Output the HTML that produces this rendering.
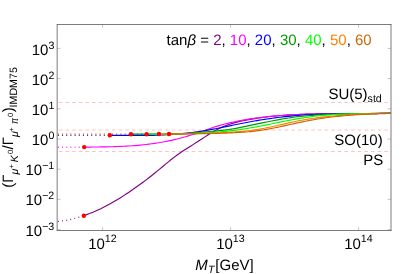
<!DOCTYPE html>
<html><head><meta charset="utf-8"><title>chart</title>
<style>html,body{margin:0;padding:0;background:#fff;}body{width:415px;height:274px;overflow:hidden;font-family:"Liberation Sans",sans-serif;}</style></head>
<body>
<svg width="415" height="274" viewBox="0 0 415 274" style="display:block;text-rendering:geometricPrecision">
<rect x="0" y="0" width="415" height="274" fill="#ffffff"/>
<defs><filter id="gs" x="0" y="0" width="415" height="274" filterUnits="userSpaceOnUse" color-interpolation-filters="sRGB"><feOffset dx="0" dy="0"/></filter></defs>
<defs><clipPath id="clip"><rect x="57.17" y="24.5" width="333.83" height="206.0"/></clipPath></defs>
<g clip-path="url(#clip)" fill="none">
<line x1="52.25" y1="102.5" x2="391.0" y2="102.5" stroke="#ffb3b3" stroke-width="0.8" stroke-dasharray="3.6 3.041"/>
<line x1="52.25" y1="130.0" x2="391.0" y2="130.0" stroke="#ffb3b3" stroke-width="0.8" stroke-dasharray="3.6 3.041"/>
<line x1="52.25" y1="151.5" x2="391.0" y2="151.5" stroke="#ffb3b3" stroke-width="0.8" stroke-dasharray="3.6 3.041"/>
<path d="M58.40,221.35 60.71,221.08 63.02,220.75 65.33,220.37 67.64,219.95 69.95,219.47 72.25,218.95 74.56,218.38 76.87,217.76 79.18,217.10 81.49,216.38 83.80,215.62" stroke="#800080" stroke-width="1.2" stroke-linecap="round" stroke-dasharray="0 4.17"/>
<path d="M58.4,147.2 L84.2,147.2" stroke="#ff00ff" stroke-width="1.2" stroke-linecap="round" stroke-dasharray="0 4.17"/>
<path d="M58.4,135.3 L109.85,135.3" stroke="#0000ff" stroke-width="1.2" stroke-linecap="round" stroke-dasharray="0 4.17"/>
<path d="M58.4,134.08 L158.9,134.08" stroke="#ff8000" stroke-width="1.2" stroke-linecap="round" stroke-dasharray="0 4.17"/>
<path d="M58.4,134.08 L169,134.08" stroke="#cc6600" stroke-width="1.2" stroke-linecap="round" stroke-dasharray="0 4.17"/>
<path d="M83.85,215.61 86.67,214.62 89.49,213.56 92.30,212.43 95.12,211.24 97.94,209.97 100.76,208.65 103.58,207.25 106.39,205.80 109.21,204.28 112.03,202.72 114.85,201.11 117.66,199.43 120.48,197.69 123.30,195.88 126.12,194.04 128.94,192.16 131.75,190.25 134.57,188.31 137.39,186.33 140.21,184.30 143.03,182.24 145.84,180.13 148.66,177.97 151.48,175.76 154.30,173.49 157.12,171.18 159.93,168.83 162.75,166.48 165.57,164.14 168.39,161.82 171.20,159.56 174.02,157.36 176.84,155.25 179.66,153.24 182.48,151.32 185.29,149.47 188.11,147.67 190.93,145.89 193.75,144.13 196.57,142.36 199.38,140.56 202.20,138.72 205.02,136.88 207.84,135.06 210.66,133.29 213.47,131.60 216.29,130.03 219.11,128.59 221.93,127.28 224.74,126.09 227.56,125.02 230.38,124.04 233.20,123.16 236.02,122.37 238.83,121.65 241.65,120.99 244.47,120.39 247.29,119.84 250.11,119.33 252.92,118.85 255.74,118.40 258.56,117.97 261.38,117.58 264.19,117.20 267.01,116.86 269.83,116.54 272.65,116.24 275.47,115.96 278.28,115.71 281.10,115.48 283.92,115.26 286.74,115.07 289.56,114.89 292.37,114.73 295.19,114.59 298.01,114.46 300.83,114.35 303.65,114.25 306.46,114.17 309.28,114.09 312.10,114.03 314.92,113.98 317.73,113.93 320.55,113.90 323.37,113.87 326.19,113.85 329.01,113.83 331.82,113.82 334.64,113.82 337.46,113.81 340.28,113.81 343.10,113.81 345.91,113.82 348.73,113.82 351.55,113.82 354.37,113.81 357.19,113.81 360.00,113.80 362.82,113.78 365.64,113.76 368.46,113.73 371.27,113.70 374.09,113.66 376.91,113.60 379.73,113.54 382.55,113.47 385.36,113.38 388.18,113.28 391.00,113.17" stroke="#800080" stroke-width="1.15" stroke-linejoin="round"/>
<path d="M84.20,147.08 87.01,147.06 89.83,147.05 92.64,147.03 95.46,147.01 98.27,146.98 101.09,146.94 103.90,146.90 106.72,146.85 109.53,146.78 112.35,146.71 115.16,146.62 117.98,146.52 120.79,146.41 123.61,146.28 126.42,146.13 129.23,145.96 132.05,145.77 134.86,145.56 137.68,145.33 140.49,145.07 143.31,144.79 146.12,144.48 148.94,144.14 151.75,143.78 154.57,143.39 157.38,142.96 160.20,142.50 163.01,142.01 165.83,141.48 168.64,140.92 171.46,140.32 174.27,139.68 177.08,139.01 179.90,138.29 182.71,137.53 185.53,136.73 188.34,135.89 191.16,135.02 193.97,134.12 196.79,133.19 199.60,132.23 202.42,131.25 205.23,130.26 208.05,129.25 210.86,128.26 213.68,127.32 216.49,126.42 219.30,125.58 222.12,124.78 224.93,124.04 227.75,123.33 230.56,122.67 233.38,122.05 236.19,121.46 239.01,120.90 241.82,120.37 244.64,119.86 247.45,119.39 250.27,118.94 253.08,118.51 255.90,118.11 258.71,117.73 261.52,117.38 264.34,117.04 267.15,116.73 269.97,116.44 272.78,116.17 275.60,115.91 278.41,115.68 281.23,115.46 284.04,115.26 286.86,115.08 289.67,114.91 292.49,114.76 295.30,114.62 298.12,114.49 300.93,114.38 303.74,114.28 306.56,114.19 309.37,114.11 312.19,114.03 315.00,113.97 317.82,113.92 320.63,113.87 323.45,113.84 326.26,113.80 329.08,113.78 331.89,113.75 334.71,113.73 337.52,113.72 340.34,113.70 343.15,113.69 345.97,113.68 348.78,113.67 351.59,113.66 354.41,113.65 357.22,113.63 360.04,113.62 362.85,113.60 365.67,113.57 368.48,113.54 371.30,113.51 374.11,113.47 376.93,113.42 379.74,113.37 382.56,113.30 385.37,113.23 388.19,113.15 391.00,113.05" stroke="#ff00ff" stroke-width="1.15" stroke-linejoin="round"/>
<path d="M109.85,135.37 112.43,135.37 115.01,135.37 117.59,135.37 120.17,135.37 122.75,135.37 125.33,135.37 127.91,135.37 130.48,135.37 133.06,135.37 135.64,135.37 138.22,135.37 140.80,135.37 143.38,135.37 145.96,135.37 148.54,135.37 151.12,135.37 153.70,135.32 156.28,135.24 158.86,135.14 161.44,135.04 164.02,134.92 166.60,134.78 169.18,134.63 171.75,134.47 174.33,134.29 176.91,134.09 179.49,133.87 182.07,133.63 184.65,133.38 187.23,133.11 189.81,132.81 192.39,132.50 194.97,132.16 197.55,131.80 200.13,131.42 202.71,131.01 205.29,130.58 207.87,130.14 210.44,129.67 213.02,129.19 215.60,128.70 218.18,128.19 220.76,127.68 223.34,127.16 225.92,126.63 228.50,126.10 231.08,125.57 233.66,125.04 236.24,124.51 238.82,123.98 241.40,123.47 243.98,122.96 246.56,122.46 249.14,121.97 251.71,121.50 254.29,121.04 256.87,120.60 259.45,120.16 262.03,119.74 264.61,119.34 267.19,118.95 269.77,118.57 272.35,118.21 274.93,117.86 277.51,117.53 280.09,117.21 282.67,116.90 285.25,116.61 287.83,116.34 290.41,116.08 292.98,115.84 295.56,115.61 298.14,115.40 300.72,115.20 303.30,115.02 305.88,114.86 308.46,114.71 311.04,114.57 313.62,114.45 316.20,114.34 318.78,114.24 321.36,114.15 323.94,114.07 326.52,114.01 329.10,113.95 331.67,113.89 334.25,113.85 336.83,113.81 339.41,113.78 341.99,113.75 344.57,113.73 347.15,113.71 349.73,113.69 352.31,113.67 354.89,113.66 357.47,113.65 360.05,113.63 362.63,113.62 365.21,113.61 367.79,113.59 370.37,113.57 372.94,113.54 375.52,113.52 378.10,113.48 380.68,113.44 383.26,113.40 385.84,113.34 388.42,113.28 391.00,113.21" stroke="#0000ff" stroke-width="1.15" stroke-linejoin="round"/>
<path d="M130.96,134.09 133.35,134.10 135.73,134.10 138.12,134.10 140.50,134.10 142.89,134.10 145.27,134.10 147.66,134.09 150.05,134.08 152.43,134.07 154.82,134.05 157.20,134.04 159.59,134.02 161.97,134.00 164.36,133.97 166.75,133.94 169.13,133.91 171.52,133.87 173.90,133.83 176.29,133.79 178.67,133.73 181.06,133.67 183.45,133.59 185.83,133.49 188.22,133.36 190.60,133.20 192.99,133.01 195.37,132.80 197.76,132.57 200.14,132.35 202.53,132.13 204.92,131.91 207.30,131.71 209.69,131.50 212.07,131.29 214.46,131.08 216.84,130.86 219.23,130.64 221.62,130.39 224.00,130.13 226.39,129.84 228.77,129.52 231.16,129.16 233.54,128.77 235.93,128.34 238.32,127.89 240.70,127.42 243.09,126.93 245.47,126.43 247.86,125.92 250.24,125.41 252.63,124.89 255.02,124.38 257.40,123.88 259.79,123.39 262.17,122.90 264.56,122.41 266.94,121.94 269.33,121.46 271.72,121.00 274.10,120.53 276.49,120.07 278.87,119.62 281.26,119.17 283.64,118.74 286.03,118.33 288.42,117.95 290.80,117.59 293.19,117.26 295.57,116.96 297.96,116.68 300.34,116.42 302.73,116.18 305.12,115.96 307.50,115.75 309.89,115.55 312.27,115.36 314.66,115.19 317.04,115.03 319.43,114.88 321.82,114.73 324.20,114.60 326.59,114.48 328.97,114.37 331.36,114.27 333.74,114.17 336.13,114.08 338.51,114.00 340.90,113.93 343.29,113.87 345.67,113.81 348.06,113.75 350.44,113.70 352.83,113.66 355.21,113.62 357.60,113.59 359.99,113.56 362.37,113.53 364.76,113.50 367.14,113.48 369.53,113.46 371.91,113.44 374.30,113.42 376.69,113.41 379.07,113.39 381.46,113.37 383.84,113.36 386.23,113.34 388.61,113.32 391.00,113.30" stroke="#009900" stroke-width="1.15" stroke-linejoin="round"/>
<path d="M146.66,134.09 148.90,134.08 151.14,134.07 153.38,134.06 155.63,134.05 157.87,134.03 160.11,134.01 162.35,133.99 164.59,133.97 166.83,133.94 169.08,133.91 171.32,133.88 173.56,133.84 175.80,133.80 178.04,133.75 180.28,133.70 182.53,133.65 184.77,133.60 187.01,133.54 189.25,133.47 191.49,133.40 193.73,133.33 195.98,133.25 198.22,133.16 200.46,133.07 202.70,132.97 204.94,132.86 207.18,132.74 209.43,132.61 211.67,132.48 213.91,132.33 216.15,132.17 218.39,131.99 220.63,131.81 222.88,131.61 225.12,131.39 227.36,131.16 229.60,130.92 231.84,130.66 234.08,130.38 236.33,130.09 238.57,129.78 240.81,129.46 243.05,129.12 245.29,128.78 247.53,128.41 249.78,128.04 252.02,127.65 254.26,127.26 256.50,126.85 258.74,126.43 260.98,126.01 263.23,125.57 265.47,125.13 267.71,124.68 269.95,124.22 272.19,123.76 274.43,123.30 276.68,122.84 278.92,122.38 281.16,121.92 283.40,121.46 285.64,121.01 287.88,120.57 290.13,120.14 292.37,119.72 294.61,119.31 296.85,118.92 299.09,118.53 301.33,118.16 303.58,117.81 305.82,117.47 308.06,117.14 310.30,116.83 312.54,116.54 314.78,116.27 317.03,116.01 319.27,115.78 321.51,115.56 323.75,115.35 325.99,115.16 328.23,114.99 330.48,114.83 332.72,114.68 334.96,114.55 337.20,114.43 339.44,114.32 341.68,114.22 343.93,114.13 346.17,114.05 348.41,113.98 350.65,113.91 352.89,113.86 355.13,113.81 357.38,113.76 359.62,113.72 361.86,113.69 364.10,113.66 366.34,113.63 368.58,113.61 370.83,113.58 373.07,113.56 375.31,113.54 377.55,113.51 379.79,113.49 382.03,113.47 384.28,113.44 386.52,113.41 388.76,113.37 391.00,113.33" stroke="#00ff00" stroke-width="1.15" stroke-linejoin="round"/>
<path d="M158.90,134.09 161.03,134.08 163.16,134.07 165.29,134.06 167.42,134.05 169.55,134.03 171.68,134.01 173.81,133.99 175.93,133.97 178.06,133.94 180.19,133.91 182.32,133.88 184.45,133.84 186.58,133.81 188.71,133.76 190.84,133.72 192.97,133.67 195.10,133.62 197.23,133.56 199.36,133.51 201.49,133.44 203.62,133.38 205.75,133.31 207.88,133.23 210.00,133.15 212.13,133.07 214.26,132.98 216.39,132.89 218.52,132.80 220.65,132.69 222.78,132.59 224.91,132.48 227.04,132.36 229.17,132.24 231.30,132.12 233.43,131.98 235.56,131.84 237.69,131.69 239.82,131.53 241.94,131.35 244.07,131.16 246.20,130.95 248.33,130.73 250.46,130.48 252.59,130.21 254.72,129.91 256.85,129.59 258.98,129.24 261.11,128.87 263.24,128.48 265.37,128.06 267.50,127.64 269.63,127.19 271.76,126.74 273.89,126.27 276.01,125.79 278.14,125.31 280.27,124.82 282.40,124.33 284.53,123.84 286.66,123.36 288.79,122.88 290.92,122.41 293.05,121.94 295.18,121.49 297.31,121.06 299.44,120.64 301.57,120.24 303.70,119.86 305.83,119.49 307.96,119.15 310.08,118.82 312.21,118.50 314.34,118.21 316.47,117.92 318.60,117.65 320.73,117.39 322.86,117.14 324.99,116.90 327.12,116.66 329.25,116.44 331.38,116.23 333.51,116.02 335.64,115.83 337.77,115.64 339.90,115.46 342.02,115.28 344.15,115.12 346.28,114.97 348.41,114.82 350.54,114.68 352.67,114.54 354.80,114.42 356.93,114.30 359.06,114.19 361.19,114.09 363.32,113.99 365.45,113.90 367.58,113.82 369.71,113.75 371.84,113.68 373.97,113.62 376.09,113.56 378.22,113.51 380.35,113.47 382.48,113.43 384.61,113.40 386.74,113.38 388.87,113.36 391.00,113.34" stroke="#ff8000" stroke-width="1.15" stroke-linejoin="round"/>
<path d="M169.00,134.05 171.04,134.04 173.07,134.03 175.11,134.02 177.15,134.01 179.18,134.00 181.22,133.98 183.26,133.97 185.29,133.95 187.33,133.93 189.37,133.90 191.40,133.88 193.44,133.85 195.48,133.82 197.51,133.79 199.55,133.76 201.59,133.72 203.62,133.68 205.66,133.64 207.70,133.60 209.73,133.55 211.77,133.50 213.81,133.45 215.84,133.39 217.88,133.34 219.92,133.27 221.95,133.21 223.99,133.14 226.03,133.07 228.06,133.00 230.10,132.92 232.14,132.84 234.17,132.74 236.21,132.64 238.25,132.53 240.28,132.41 242.32,132.28 244.36,132.13 246.39,131.97 248.43,131.79 250.47,131.59 252.50,131.38 254.54,131.14 256.58,130.89 258.61,130.61 260.65,130.32 262.69,130.01 264.72,129.68 266.76,129.33 268.80,128.97 270.83,128.59 272.87,128.20 274.91,127.79 276.94,127.38 278.98,126.95 281.02,126.52 283.06,126.07 285.09,125.63 287.13,125.18 289.17,124.72 291.20,124.27 293.24,123.82 295.28,123.37 297.31,122.93 299.35,122.50 301.39,122.07 303.42,121.66 305.46,121.25 307.50,120.86 309.53,120.47 311.57,120.10 313.61,119.73 315.64,119.38 317.68,119.04 319.72,118.71 321.75,118.40 323.79,118.09 325.83,117.80 327.86,117.52 329.90,117.26 331.94,117.00 333.97,116.76 336.01,116.53 338.05,116.31 340.08,116.10 342.12,115.90 344.16,115.71 346.19,115.54 348.23,115.37 350.27,115.21 352.30,115.06 354.34,114.91 356.38,114.78 358.41,114.65 360.45,114.53 362.49,114.42 364.52,114.32 366.56,114.22 368.60,114.13 370.63,114.04 372.67,113.96 374.71,113.89 376.74,113.82 378.78,113.75 380.82,113.69 382.85,113.63 384.89,113.58 386.93,113.53 388.96,113.48 391.00,113.44" stroke="#cc6600" stroke-width="1.15" stroke-linejoin="round"/>
</g>
<circle cx="83.85" cy="215.8" r="2.2" fill="#ff0000"/>
<circle cx="84.2" cy="147.1" r="2.2" fill="#ff0000"/>
<circle cx="109.85" cy="135.3" r="2.2" fill="#ff0000"/>
<circle cx="130.96" cy="134.2" r="2.2" fill="#ff0000"/>
<circle cx="146.66" cy="134.2" r="2.2" fill="#ff0000"/>
<circle cx="158.9" cy="134.0" r="2.2" fill="#ff0000"/>
<circle cx="169.0" cy="134.0" r="2.2" fill="#ff0000"/>
<g stroke="#8c8c8c" stroke-width="0.5" fill="none">
<line x1="102.55" y1="230.5" x2="102.55" y2="227.2"/>
<line x1="102.55" y1="24.5" x2="102.55" y2="27.8"/>
<line x1="230.55" y1="230.5" x2="230.55" y2="227.2"/>
<line x1="230.55" y1="24.5" x2="230.55" y2="27.8"/>
<line x1="358.55" y1="230.5" x2="358.55" y2="227.2"/>
<line x1="358.55" y1="24.5" x2="358.55" y2="27.8"/>
<line x1="57.17" y1="48.40" x2="60.57" y2="48.40"/>
<line x1="391.0" y1="48.40" x2="387.6" y2="48.40"/>
<line x1="57.17" y1="78.60" x2="60.57" y2="78.60"/>
<line x1="391.0" y1="78.60" x2="387.6" y2="78.60"/>
<line x1="57.17" y1="108.80" x2="60.57" y2="108.80"/>
<line x1="391.0" y1="108.80" x2="387.6" y2="108.80"/>
<line x1="57.17" y1="139.00" x2="60.57" y2="139.00"/>
<line x1="391.0" y1="139.00" x2="387.6" y2="139.00"/>
<line x1="57.17" y1="169.20" x2="60.57" y2="169.20"/>
<line x1="391.0" y1="169.20" x2="387.6" y2="169.20"/>
<line x1="57.17" y1="199.40" x2="60.57" y2="199.40"/>
<line x1="391.0" y1="199.40" x2="387.6" y2="199.40"/>
<line x1="57.17" y1="229.60" x2="60.57" y2="229.60"/>
<line x1="391.0" y1="229.60" x2="387.6" y2="229.60"/>
</g>
<g stroke="#666666" stroke-width="0.86" fill="none" stroke-linecap="butt">
<line x1="56.85" y1="24.5" x2="391.45" y2="24.5"/>
<line x1="56.85" y1="230.5" x2="391.45" y2="230.5"/>
<line x1="57.17" y1="24.07" x2="57.17" y2="230.93"/>
<line x1="391.0" y1="24.07" x2="391.0" y2="230.93"/>
</g>
<g font-family='"Liberation Sans", sans-serif' font-size="15" fill="#000000" filter="url(#gs)">
<text x="54.3" y="54.70" text-anchor="end">10<tspan font-size="10.65" dy="-5.9">3</tspan></text>
<text x="54.3" y="84.80" text-anchor="end">10<tspan font-size="10.65" dy="-5.9">2</tspan></text>
<text x="54.3" y="114.80" text-anchor="end">10<tspan font-size="10.65" dy="-5.9">1</tspan></text>
<text x="54.3" y="144.80" text-anchor="end">10<tspan font-size="10.65" dy="-5.9">0</tspan></text>
<text x="54.3" y="175.10" text-anchor="end">10<tspan font-size="10.65" dy="-5.9">−1</tspan></text>
<text x="54.3" y="205.30" text-anchor="end">10<tspan font-size="10.65" dy="-5.9">−2</tspan></text>
<text x="54.3" y="235.60" text-anchor="end">10<tspan font-size="10.65" dy="-5.9">−3</tspan></text>
<text x="102.45" y="248.9" text-anchor="middle">10<tspan font-size="10.65" dy="-6.8">12</tspan></text>
<text x="230.45" y="248.9" text-anchor="middle">10<tspan font-size="10.65" dy="-6.8">13</tspan></text>
<text x="358.45" y="248.9" text-anchor="middle">10<tspan font-size="10.65" dy="-6.8">14</tspan></text>
<text x="166.6" y="44.9">tan<tspan font-style="italic">β</tspan> = <tspan fill="#800080">2</tspan>, <tspan fill="#ff00ff">10</tspan>, <tspan fill="#0000ff">20</tspan>, <tspan fill="#009900">30</tspan>, <tspan fill="#00ff00">40</tspan>, <tspan fill="#ff8000">50</tspan>, <tspan fill="#cc6600">60</tspan></text>
<text x="328.4" y="99.2">SU(5)<tspan font-size="10.65" dy="2.4">std</tspan></text>
<text x="334.3" y="145.3">SO(10)</text>
<text x="363.2" y="164.5">PS</text>
<text x="195.2" y="270.0"><tspan font-style="italic">M</tspan><tspan font-size="10.65" font-style="italic" dy="2.5" dx="0.2">T</tspan><tspan dy="-2.5" dx="0.9">[GeV]</tspan></text>
<g transform="translate(13.4,187.7) rotate(-90)">
<text x="0" y="0">(Γ</text>
<text x="13.3" y="4.5" font-size="10.65" font-style="italic">μ</text>
<text x="19.2" y="0.5" font-size="7.56">+</text>
<text x="25.4" y="4.5" font-size="10.65" font-style="italic">K</text>
<text x="33.6" y="-0.3" font-size="7.56">0</text>
<text x="38.2" y="0">/Γ</text>
<text x="50.7" y="4.5" font-size="10.65" font-style="italic">μ</text>
<text x="56.0" y="0.5" font-size="7.56">+</text>
<text x="63.6" y="4.5" font-size="10.65" font-style="italic" textLength="6.0" lengthAdjust="spacingAndGlyphs">π</text>
<text x="70.8" y="-0.3" font-size="7.56">0</text>
<text x="75.4" y="0">)</text>
<text x="80.3" y="3.5" font-size="10.65">IMDM75</text>
</g>
</g>
</svg>
</body></html>
